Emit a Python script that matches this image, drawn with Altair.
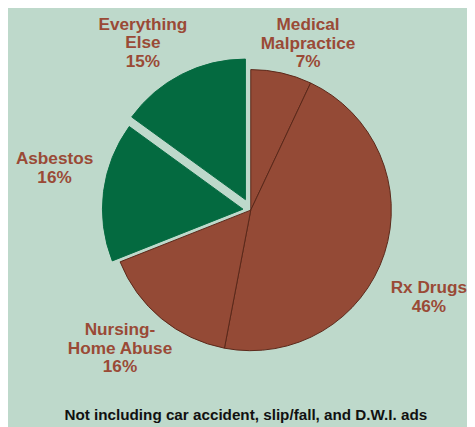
import altair as alt
import pandas as pd

# ---- data ----
categories = ["Medical Malpractice", "Rx Drugs", "Nursing-Home Abuse", "Asbestos", "Everything Else"]
shares = [7, 46, 16, 16, 15]
label_texts = [
    "Medical\nMalpractice\n7%",
    "Rx Drugs\n46%",
    "Nursing-\nHome Abuse\n16%",
    "Asbestos\n16%",
    "Everything\nElse\n15%",
]
footnote = "Not including car accident, slip/fall, and D.W.I. ads"

df = pd.DataFrame({
    "category": categories,
    "share": shares,
    "label": label_texts,
    "order": list(range(len(categories))),
})

# ---- styles ----
BG = "#bed9cb"
BROWN = "#944a36"
GREEN = "#046a40"
EDGE = "#5a281a"
LABEL = "#9a4a36"
FONT = "Liberation Sans"
LINE_H = 19

W, H = 467, 395
CX, CY, R = 247, 202, 143

explode = {"Asbestos": 8, "Everything Else": 12}
label_r = {"Medical Malpractice": 179, "Rx Drugs": 202, "Nursing-Home Abuse": 194,
           "Asbestos": 204, "Everything Else": 202}
label_turn = {"Medical Malpractice": 6.4, "Rx Drugs": 8.2, "Nursing-Home Abuse": 3.7,
              "Asbestos": 4.7, "Everything Else": -5.9}


def lookup(d, default=0):
    expr = str(default)
    for k, v in d.items():
        expr = f"(datum.category === '{k}' ? {v} : {expr})"
    return expr


base = alt.Chart(df).transform_window(
    cum="sum(share)", sort=[alt.SortField("order")], frame=[None, 0]
).transform_calculate(
    start="datum.cum - datum.share",
    mid="(datum.cum - datum.share / 2) / 100 * 2 * PI",
    ex=lookup(explode),
    lr=lookup(label_r),
    lt=lookup(label_turn),
    nlines="length(split(datum.label, '\\n'))",
).transform_calculate(
    px=f"{CX} + datum.ex * sin(datum.mid)",
    py=f"{CY} - datum.ex * cos(datum.mid)",
    la="datum.mid + datum.lt * PI / 180",
).transform_calculate(
    lx=f"{CX} + datum.lr * sin(datum.la)",
    ly=f"{CY} - datum.lr * cos(datum.la) - (datum.nlines - 1) * {LINE_H} / 2",
)

color_scale = alt.Scale(domain=categories, range=[BROWN, BROWN, BROWN, GREEN, GREEN])
stroke_scale = alt.Scale(domain=categories, range=[EDGE, EDGE, EDGE, GREEN, GREEN])

arcs = base.mark_arc(radius=R, strokeWidth=1).encode(
    theta=alt.Theta("start:Q", stack=None, scale=alt.Scale(domain=[0, 100], range=[0, 6.283185307179586])),
    theta2="cum:Q",
    x=alt.X("px:Q", scale=None, axis=None),
    y=alt.Y("py:Q", scale=None, axis=None),
    color=alt.Color("category:N", scale=color_scale, legend=None),
    stroke=alt.Stroke("category:N", scale=stroke_scale, legend=None),
)

labels = base.mark_text(
    font=FONT, fontWeight="bold", fontSize=17.5, lineHeight=LINE_H,
    lineBreak="\n", align="center", baseline="middle", color=LABEL,
).encode(
    x=alt.X("lx:Q", scale=None, axis=None),
    y=alt.Y("ly:Q", scale=None, axis=None),
    text="label:N",
)

chart = alt.layer(arcs, labels).properties(
    width=W, height=H,
    autosize=alt.AutoSizeParams(type="none"),
    padding={"left": 0, "top": 0, "right": 0, "bottom": 24},
    background=BG,
    title=alt.TitleParams(
        footnote, orient="bottom", anchor="middle", font=FONT,
        fontWeight="bold", fontSize=15.5, color="#111111", offset=21,
        baseline="alphabetic", dx=8.5,
    ),
).configure_view(stroke=None)

chart.save("out.html", embed_options={"renderer": "svg", "actions": False})
